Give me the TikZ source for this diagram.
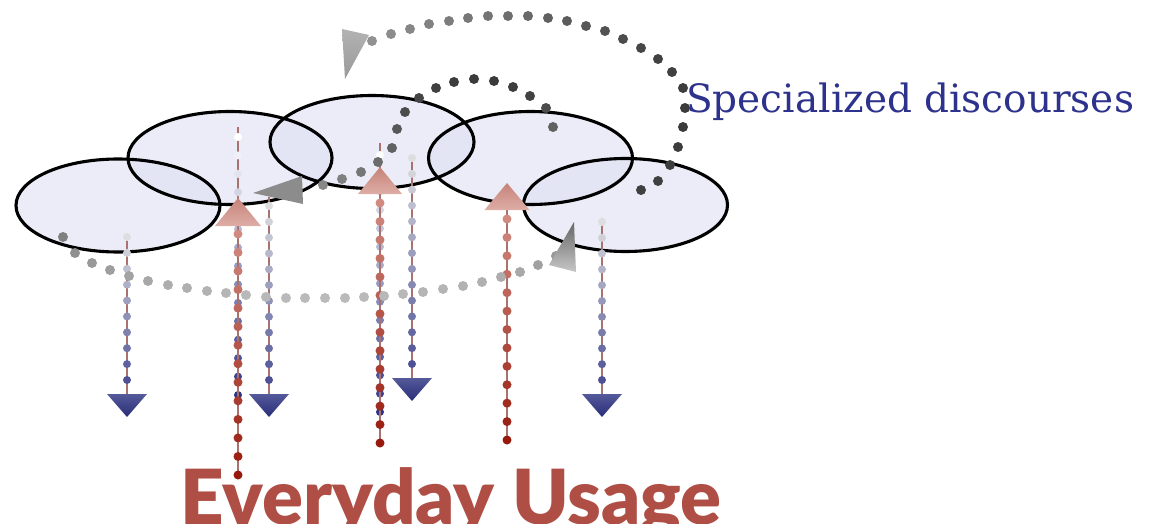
\documentclass[tikz,border=0pt]{standalone}
\usepackage{fontspec}
\newfontfamily\spfont{DejaVu Serif}
\newfontfamily\evfont{Lato Black}
\usetikzlibrary{shapes.geometric}
\definecolor{ellfill}{RGB}{222,224,242}
\definecolor{linec}{RGB}{168,115,110}
\definecolor{bluetop}{RGB}{222,222,224}
\definecolor{bluebot}{RGB}{78,82,148}
\definecolor{navyc}{RGB}{48,52,132}
\definecolor{headtop}{RGB}{85,90,155}
\definecolor{headbot}{RGB}{40,45,120}
\definecolor{redtop}{RGB}{208,138,128}
\definecolor{redbot}{RGB}{150,25,12}
\definecolor{spcol}{RGB}{45,50,140}
\definecolor{evcol}{RGB}{175,78,68}
\newcommand{\mydotrun}[7]{%
  \foreach \k in {0,...,#4}{%
    \pgfmathsetmacro\yy{#2+(#3-#2)*\k/#4}%
    \pgfmathtruncatemacro\pc{100*\k/#4}%
    \fill[#6!\pc!#5] (#1,\yy) circle[radius=#7];}}
\begin{document}
\begin{tikzpicture}[x=1pt,y=-1pt,
  ell/.style={ellipse, fill=ellfill, fill opacity=0.6,
    minimum width=204pt, minimum height=93pt, inner sep=0pt},
  rim/.style={draw=black, line width=3.1pt},
  stem/.style={draw=linec, line width=1.2pt},
  downhead/.style={top color=headtop, bottom color=headbot},
  uphead/.style={top color=redtop!95!black, bottom color=redtop!70!white},
  gdot/.style={radius=5pt}]
\clip (0,0) rectangle (1159,524);
% ellipses
\node[ell] (e1) at (118,205.5) {};
\node[ell] (e2) at (230,158) {};
\node[ell] (e3) at (372,142) {};
\node[ell] (e4) at (530.5,158) {};
\node[ell] (e5) at (625.5,205) {};
\foreach \n in {e1,e2,e3,e4,e5}
  \draw[rim] (\n.center) ellipse [x radius=102pt, y radius=46.5pt];
% long blue lines beneath red ones
\draw[stem] (238,127) -- (238,395);
\mydotrun{238}{137}{395}{14}{white}{navyc}{4pt}
\draw[stem] (380,143) -- (380,412);
\mydotrun{380}{155}{412}{14}{white}{navyc}{4pt}
% blue down lines
\draw[stem] (127,237) -- (127,394);
\mydotrun{127}{237}{380}{9}{bluetop}{bluebot}{4pt}
\shade[downhead] (107,394) -- (147,394) -- (127,417) -- cycle;
\draw[stem] (269,197) -- (269,394);
\mydotrun{269}{206}{380}{11}{bluetop}{bluebot}{4pt}
\shade[downhead] (249,394) -- (289,394) -- (269,417) -- cycle;
\draw[stem] (412,155) -- (412,378);
\mydotrun{412}{158}{364}{13}{bluetop}{bluebot}{4pt}
\shade[downhead] (392,378) -- (432,378) -- (412,401) -- cycle;
\draw[stem] (602,218) -- (602,394);
\mydotrun{602}{222}{380}{10}{bluetop}{bluebot}{4pt}
\shade[downhead] (582,394) -- (622,394) -- (602,417) -- cycle;
% red up lines
\draw[stem] (238,226) -- (238,475);
\mydotrun{238}{234}{475}{13}{redtop}{redbot}{4.5pt}
\shade[uphead] (238,198) -- (261,226) -- (215,226) -- cycle;
\draw[stem] (380,194) -- (380,443);
\mydotrun{380}{203}{443}{13}{redtop}{redbot}{4.5pt}
\shade[uphead] (380,167) -- (402,194) -- (358,194) -- cycle;
\draw[stem] (507,210) -- (507,440);
\mydotrun{507}{219}{440}{12}{redtop}{redbot}{4.5pt}
\shade[uphead] (507,183) -- (529.5,210) -- (484.5,210) -- cycle;
% outer arc
\foreach \x/\y/\g in {641/190/75,658/181/75,670/165/76,678/147/76,683/127/77,685/108/77,683/88/76,672/72/75,658/59/74,641/48/72,623/39/70,605/31/68,586/26/66,567/21/64,548/18/62,528/16/59,508/16/57,488/16/55,468/18/53,449/21/51,429/24/49,410/29/47,391/34/45,372/41/43}
  \fill[black!\g] (\x,\y) circle[gdot];
\coordinate (oa) at (345,79);
\shade[top color=black!30, bottom color=black!40] (342,29) -- (369,35) -- (oa) -- cycle;
% inner arc
\foreach \x/\y/\g in {553/127/62,546/108/70,530/96/74,513/87/76,494/81/77,474/79/77,454/82/76,436/88/75,419/98/73,405/112/70,397/129/66,392/148/62,378/162/58,361/172/54,342/179/50,323/185/47}
  \fill[black!\g] (\x,\y) circle[gdot];
\coordinate (ia) at (253,193);
\fill[black!45] (ia) -- (302,176) -- (303,204) -- cycle;
% bottom curve
\foreach \x/\y/\g in {63/237/50,75/253/44,92/263/40,110/270/38,129/276/36,148/281/34,168/285/32,187/288/31,207/291/30,226/293/29,246/295/28,266/297/28,286/298/27,305/298/27,325/298/27,345/298/27,364/297/27,384/296/28,403/294/28,423/292/29,443/289/29,463/286/30,482/282/31,501/277/32,520/272/34,538/265/37,556/256/40}
  \fill[black!\g] (\x,\y) circle[gdot];
\coordinate (ba) at (574,222);
\shade[top color=black!60, bottom color=black!22] (ba) -- (576,272) -- (549,265) -- cycle;
% texts
\node[anchor=base west, inner sep=0pt, text=spcol, font=\spfont\fontsize{39}{44}\selectfont] (spec) at (686,113) {Specialized discourses};
\node[anchor=base west, inner sep=0pt, text=evcol, font=\evfont\fontsize{76}{88}\selectfont] (every) at (180,524) {Everyday Usage};
\end{tikzpicture}
\end{document}
